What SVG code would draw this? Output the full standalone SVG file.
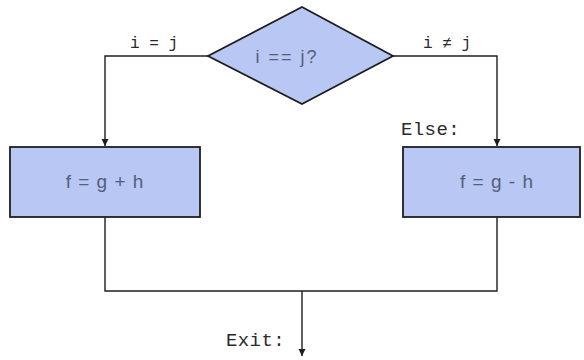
<svg xmlns="http://www.w3.org/2000/svg" width="584" height="360" viewBox="0 0 584 360">
<style>
.shape{fill:#b8c7f4;stroke:#1e1e1e;stroke-width:1.8}
.line{fill:none;stroke:#1e1e1e;stroke-width:1.4}
.lab{font-family:"Liberation Mono","DejaVu Sans Mono",monospace;font-size:16px;fill:#2a2a2a}
.big{font-family:"Liberation Mono","DejaVu Sans Mono",monospace;font-size:19px;fill:#2a2a2a;letter-spacing:0.4px}
.in{font-family:"Liberation Sans","Arial",sans-serif;fill:#52607c;text-anchor:middle}
</style>
<defs>
<marker id="arr" markerWidth="8" markerHeight="10" refX="7" refY="5" orient="auto" markerUnits="userSpaceOnUse">
<path d="M0,1.5 L7,5 L0,8.5 z" fill="#1e1e1e"/>
</marker>
</defs>
<g id="connectors">
<polyline class="line" points="208,56 105,56 105,146" marker-end="url(#arr)"/>
<polyline class="line" points="393,56 497,56 497,146" marker-end="url(#arr)"/>
<polyline class="line" points="105,217 105,291 497,291 497,217"/>
<line class="line" x1="302" y1="291" x2="302" y2="356" marker-end="url(#arr)"/>
<text class="lab" x="130" y="48">i = j</text>
<text class="lab" x="423" y="48">i ≠ j</text>
<text class="big" x="401" y="135">Else:</text>
<text class="big" x="226" y="346">Exit:</text>
</g>
<g id="decision">
<polygon class="shape" points="302,7 393,56 302,104 208,56"/>
<text class="in" x="287" y="63" font-size="18" letter-spacing="2">i == j?</text>
</g>
<g id="then-box">
<rect class="shape" x="10" y="147" width="190" height="70"/>
<text class="in" x="105" y="188" font-size="19" letter-spacing="1">f = g + h</text>
</g>
<g id="else-box">
<rect class="shape" x="403" y="147" width="177" height="70"/>
<text class="in" x="497" y="188" font-size="19" letter-spacing="1">f = g - h</text>
</g>
</svg>
